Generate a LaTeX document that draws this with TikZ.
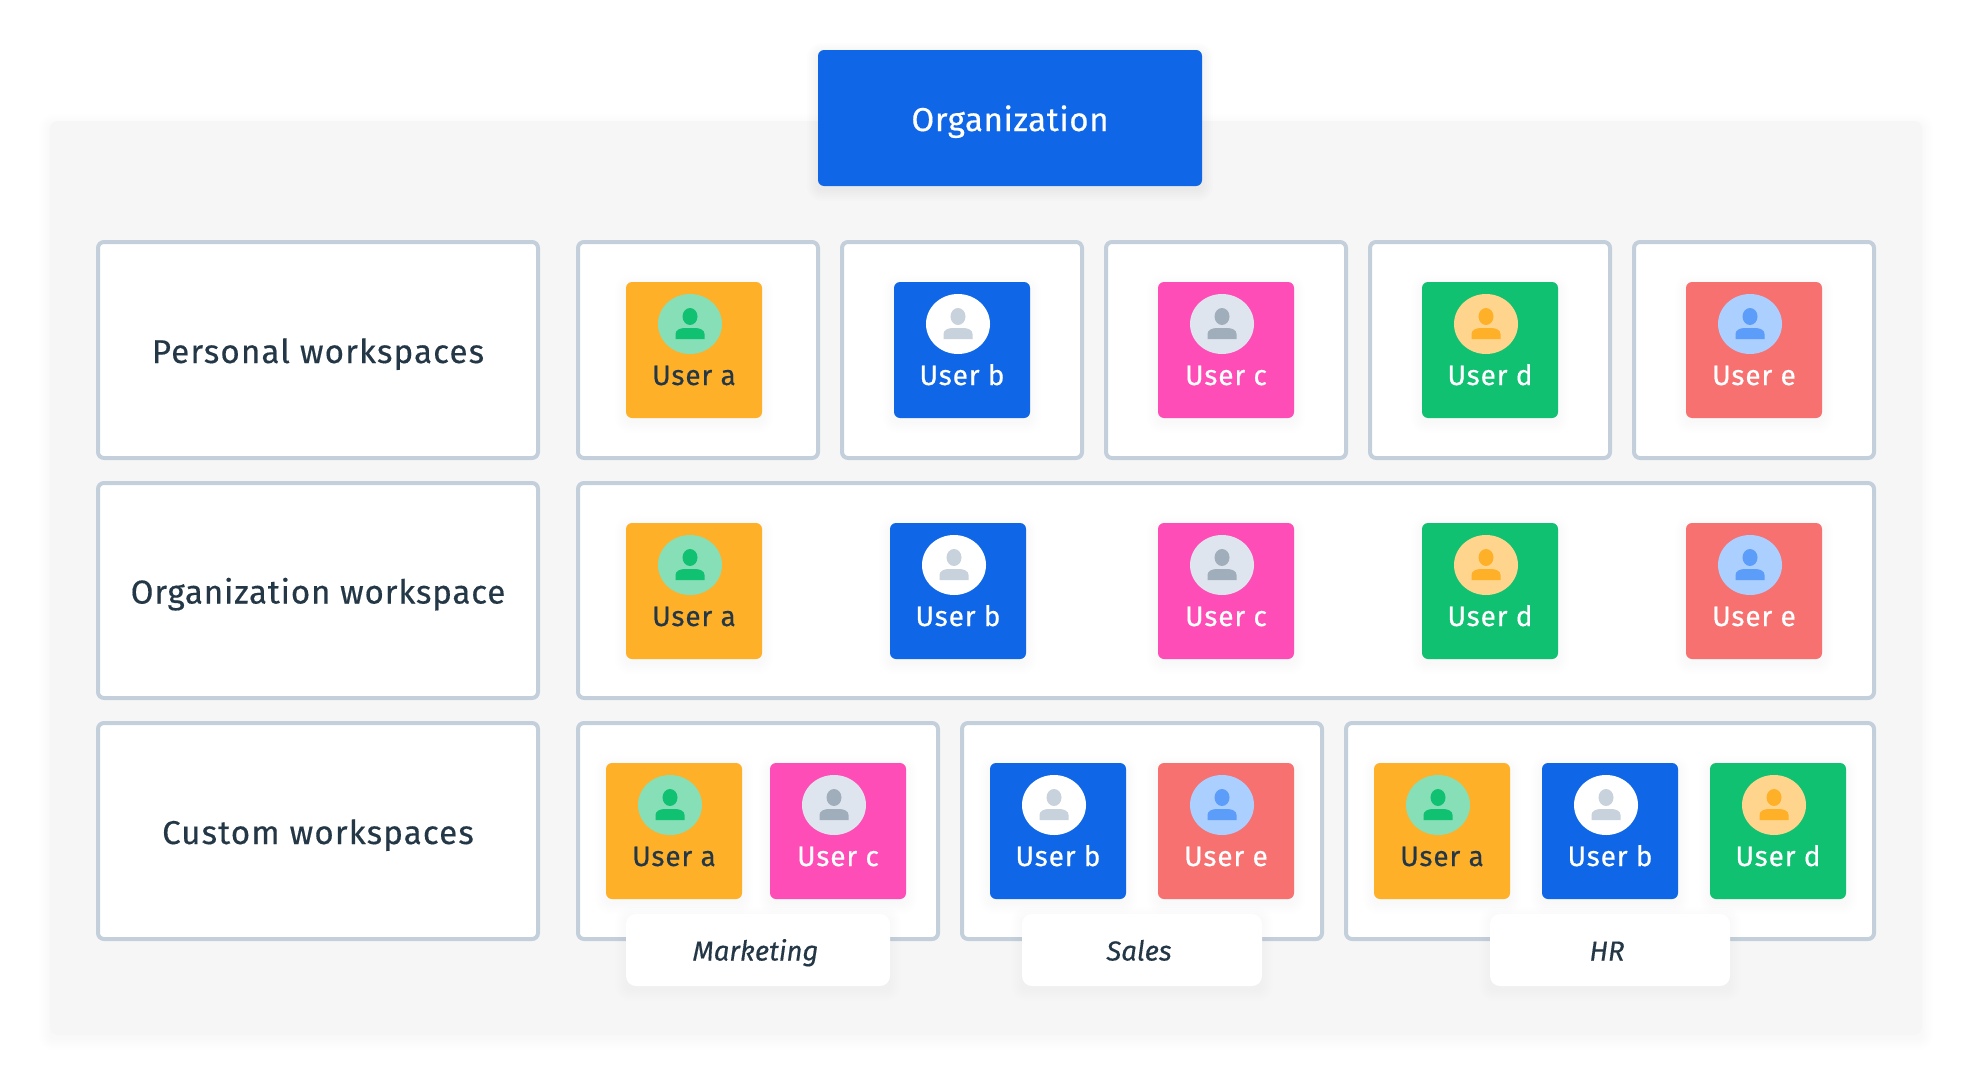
\documentclass[tikz,border=0pt]{standalone}
\usepackage{fontspec}
\setmainfont{Fira Sans}[FakeBold=0.4]
\usetikzlibrary{calc,shapes.geometric}
\definecolor{ink}{HTML}{243746}
\definecolor{edge}{HTML}{C3D0DC}
\definecolor{panel}{HTML}{F6F6F6}
\definecolor{orangec}{HTML}{FFB029}
\definecolor{bluec}{HTML}{0F67E8}
\definecolor{pinkc}{HTML}{FF4DB8}
\definecolor{greenc}{HTML}{10C172}
\definecolor{redc}{HTML}{F77171}
\definecolor{lgreen}{HTML}{87DFB7}
\definecolor{lgrey}{HTML}{DEE5EE}
\definecolor{mgrey}{HTML}{A0AEBC}
\definecolor{sgrey}{HTML}{C8D2DC}
\definecolor{lorange}{HTML}{FFD58E}
\definecolor{lblue}{HTML}{ABCFFF}
\definecolor{mblue}{HTML}{5B9DF9}
\newfontfamily\spacedA{Fira Sans}[FakeBold=0.4,LetterSpace=2.7]
\newfontfamily\spacedB{Fira Sans}[FakeBold=0.4,LetterSpace=3]
\newfontfamily\spacedC{Fira Sans}[FakeBold=0.4,LetterSpace=2]
\newfontfamily\spacedD{Fira Sans}[FakeBold=0.4,LetterSpace=3.6]
\tikzset{
  box/.style={anchor=north west,inner sep=0pt,outer sep=0pt,rounded corners=6pt,fill=white,draw=edge,line width=4pt,text=ink,text height=26pt,text depth=0pt,font=\fontsize{33}{38}\selectfont\spacedA},
  cardbox/.style={anchor=north west,inner sep=0pt,outer sep=0pt,rounded corners=6pt,minimum width=136pt,minimum height=136pt},
  usertext/.style={anchor=base,inner sep=0pt,font=\fontsize{28}{32}\selectfont\spacedB},
  tagbox/.style={anchor=north west,inner sep=0pt,outer sep=0pt,rounded corners=10pt,fill=white,minimum height=72pt,text=ink,text height=21pt,text depth=0pt,font=\fontsize{27.5}{32}\selectfont\itshape},
}
% soft shadow: x, y, w, h (top-left corner), strength
\newcommand{\softshade}[5]{%
  \foreach \s in {1,3,...,11}{%
    \fill[black,opacity=#5,rounded corners=\s pt+4pt]
      ({#1-\s},{#2-\s+4}) rectangle ({#1+#3+\s},{#2+#4+\s+4});
  }}
% user card: name, x, y, fill, circle, icon, text colour, label
\newcommand{\usercard}[8]{%
  \softshade{#2}{#3}{136}{136}{0.005}
  \node[cardbox,fill=#4] (#1) at (#2,#3) {};
  \node[ellipse,fill=#5,minimum width=64pt,minimum height=60pt,inner sep=0pt] (#1c) at ($(#1.north west)+(64,42)$) {};
  \fill[#6] ($(#1c.center)+(0,-7.5)$) ellipse [x radius=7.5pt,y radius=8.5pt];
  \fill[#6,shift={(#1c.center)}] (-14.5,15) -- (-14.5,10) .. controls (-14.5,6) and (-10,4) .. (-5,4) -- (5,4) .. controls (10,4) and (14.5,6) .. (14.5,10) -- (14.5,15) -- cycle;
  \node[usertext,text=#7] (#1t) at ($(#1.north west)+(68,103)$) {#8};
}
\begin{document}
\begin{tikzpicture}[x=1pt,y=-1pt]
\useasboundingbox (0,0) rectangle (1972,1084);
\fill[white] (0,0) rectangle (1972,1084);
% panel
\softshade{50}{121}{1872}{914}{0.004}
\node[anchor=north west,inner sep=0pt,outer sep=0pt,rounded corners=8pt,fill=panel,minimum width=1872pt,minimum height=914pt] (panel) at (50,121) {};
% organization
\softshade{818}{50}{384}{136}{0.008}
\node[anchor=north west,inner sep=0pt,outer sep=0pt,rounded corners=6pt,fill=bluec,text=white,minimum width=384pt,minimum height=136pt,text height=26pt,text depth=0pt,font=\fontsize{33}{38}\selectfont\spacedC] (org) at (818,50) {Organization};
% row labels
\node[box,minimum width=440pt,minimum height=216pt,font=\fontsize{33}{38}\selectfont\spacedD] (r1) at (98,242) {Personal workspaces};
\node[box,minimum width=440pt,minimum height=215pt] (r2) at (98,483) {Organization workspace};
\node[box,minimum width=440pt,minimum height=216pt,font=\fontsize{33}{38}\selectfont\spacedD] (r3) at (98,723) {Custom workspaces};
% row 1 cells
\node[box,minimum width=240pt,minimum height=216pt] (p1) at (578,242) {};
\node[box,minimum width=240pt,minimum height=216pt] (p2) at (842,242) {};
\node[box,minimum width=240pt,minimum height=216pt] (p3) at (1106,242) {};
\node[box,minimum width=240pt,minimum height=216pt] (p4) at (1370,242) {};
\node[box,minimum width=240pt,minimum height=216pt] (p5) at (1634,242) {};
% row 2
\node[box,minimum width=1296pt,minimum height=215pt] (o1) at (578,483) {};
% row 3
\node[box,minimum width=360pt,minimum height=216pt] (c1) at (578,723) {};
\node[box,minimum width=360pt,minimum height=216pt] (c2) at (962,723) {};
\node[box,minimum width=528pt,minimum height=216pt] (c3) at (1346,723) {};
% cards row 1
\usercard{pa}{626}{282}{orangec}{lgreen}{greenc}{ink}{User a}
\usercard{pb}{894}{282}{bluec}{white}{sgrey}{white}{User b}
\usercard{pc}{1158}{282}{pinkc}{lgrey}{mgrey}{white}{User c}
\usercard{pd}{1422}{282}{greenc}{lorange}{orangec}{white}{User d}
\usercard{pe}{1686}{282}{redc}{lblue}{mblue}{white}{User e}
% cards row 2
\usercard{oa}{626}{523}{orangec}{lgreen}{greenc}{ink}{User a}
\usercard{ob}{890}{523}{bluec}{white}{sgrey}{white}{User b}
\usercard{oc}{1158}{523}{pinkc}{lgrey}{mgrey}{white}{User c}
\usercard{od}{1422}{523}{greenc}{lorange}{orangec}{white}{User d}
\usercard{oe}{1686}{523}{redc}{lblue}{mblue}{white}{User e}
% cards row 3
\usercard{ca}{606}{763}{orangec}{lgreen}{greenc}{ink}{User a}
\usercard{cc}{770}{763}{pinkc}{lgrey}{mgrey}{white}{User c}
\usercard{cb}{990}{763}{bluec}{white}{sgrey}{white}{User b}
\usercard{ce}{1158}{763}{redc}{lblue}{mblue}{white}{User e}
\usercard{ha}{1374}{763}{orangec}{lgreen}{greenc}{ink}{User a}
\usercard{hb}{1542}{763}{bluec}{white}{sgrey}{white}{User b}
\usercard{hd}{1710}{763}{greenc}{lorange}{orangec}{white}{User d}
% tags
\softshade{626}{914}{264}{72}{0.003}
\node[tagbox,minimum width=264pt] (t1) at (626,914) {\hspace*{-5pt}Marketing};
\softshade{1022}{914}{240}{72}{0.003}
\node[tagbox,minimum width=240pt] (t2) at (1022,914) {\hspace*{-6pt}Sales};
\softshade{1490}{914}{240}{72}{0.003}
\node[tagbox,minimum width=240pt] (t3) at (1490,914) {\hspace*{-6pt}HR};
\end{tikzpicture}
\end{document}
